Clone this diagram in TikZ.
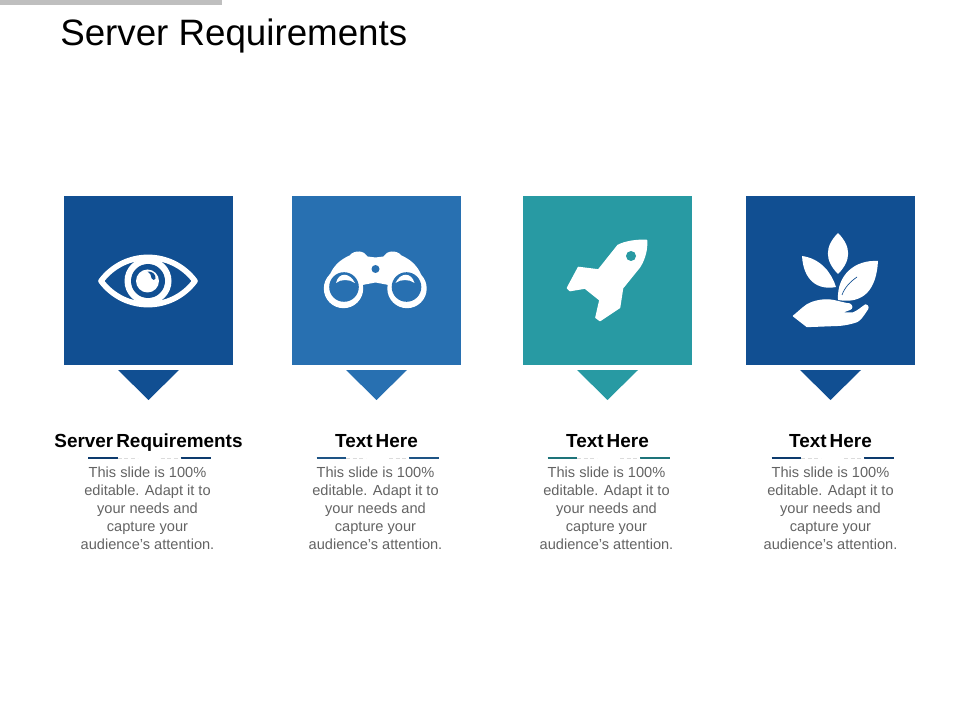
\documentclass[tikz,border=0pt]{standalone}
\usepackage{fontspec}
\setmainfont{Liberation Sans}
\definecolor{navyblue}{HTML}{114F92}
\definecolor{midblue}{HTML}{2870B1}
\definecolor{tealblue}{HTML}{289AA3}
\definecolor{bodygray}{HTML}{636363}
\newcommand{\blurb}{This slide is 100\%\\editable. Adapt it to\\your needs and\\capture your\\audience's attention.}
\newcommand{\headfont}{\fontsize{14.2}{16}\selectfont\bfseries\spaceskip 2.25pt\relax}
\tikzset{
  cardbox/.style={minimum size=126.75pt,inner sep=0pt,outer sep=0pt},
  headtext/.style={anchor=base,inner sep=0pt,font=\headfont},
  bodytext/.style={inner sep=0pt,align=center,text=bodygray,font=\fontsize{10.95}{13.5}\selectfont},
  pics/pointer/.style={code={
    \fill[#1] (-30.5,5) -- (30.5,5) -- (0,35) -- cycle;
  }},
  pics/headrule/.style={code={
    \draw[#1!75!black,line width=.8pt] (-60.5,0) -- (-31,0);
    \draw[#1!75!black,line width=.8pt] (32,0) -- (62,0);
    \draw[gray!28,line width=.7pt,dash pattern=on 3pt off 2pt] (-31,0) -- (-11,0);
    \draw[gray!28,line width=.7pt,dash pattern=on 3pt off 2pt] (12,0) -- (32,0);
  }},
  pics/eyeicon/.style={code={
    \draw[white,line width=4.2pt,line join=round] (-47.5,.5) .. controls (-24,-31) and (23,-31) .. (46.5,.5)
      .. controls (23,32) and (-24,32) .. cycle;
    \fill[white] (-.5,.5) circle[radius=23.5];
    \fill[#1] (-.5,.5) circle[radius=17];
    \fill[white] (-1,.5) circle[radius=11.5];
    \fill[#1] (-1,-9) .. controls (4,-9.5) and (7.5,-6) .. (7,-2) .. controls (6.5,0) and (4,0) .. (3.2,-2)
      .. controls (3,-5) and (1.5,-7.5) .. cycle;
  }},
  pics/binocularicon/.style={code={
    \fill[white] (-47,-5) .. controls (-43,-15) and (-36,-21) .. (-27,-25) .. controls (-22,-31) and (-12,-30) .. (-9,-24)
      -- (-1,-23) -- (7,-24) .. controls (10,-30) and (20,-31) .. (25,-25) .. controls (34,-21) and (41,-15) .. (45,-5)
      -- (30.5,8) -- (-1,2) -- (-33,8) -- cycle;
    \fill[white] (-33,8) circle[radius=19.7];
    \fill[white] (30.5,8) circle[radius=19.7];
    \fill[#1] (-32.5,6.5) circle[radius=14.8];
    \fill[#1] (30,6.5) circle[radius=14.8];
    \fill[#1] (-1,-11.5) circle[radius=4];
    \fill[white] (-40.5,2.5) .. controls (-38,-8.5) and (-27,-8.5) .. (-21.5,2.5) .. controls (-27,-1.5) and (-36,-1.5) .. cycle;
    \fill[white] (38,2.5) .. controls (35,-8.5) and (24,-8.5) .. (19,2.5) .. controls (24,-1.5) and (33,-1.5) .. cycle;
  }},
  pics/rocketicon/.style={code={
    \fill[white,draw=white,line width=1.2pt,line join=round] (39,-40) .. controls (30,-40.5) and (18,-39) .. (10.5,-35)
      -- (-9,-10.5) -- (-29,-13) -- (-40,7.5) -- (-37.5,10) -- (-22.5,7.5) -- (-7.5,19.5)
      -- (-11.5,37) -- (-7.5,40) -- (12,27) -- (15,7.5) -- (32,-13.5)
      .. controls (37.5,-22) and (39.5,-32) .. cycle;
    \fill[#1] (23.5,-24.5) circle[radius=5];
  }},
  pics/planticon/.style={code={
    \fill[white] (7.5,-47.5) .. controls (-6,-34) and (-6,-20) .. (7.5,-6.5) .. controls (21,-20) and (21,-34) .. cycle;
    \fill[white] (-28.5,-24.5) .. controls (-10,-22) and (1,-8) .. (5.5,6.5) .. controls (-13,10) and (-27,0) .. cycle;
    \fill[white] (47.5,-19.5) .. controls (25,-21) and (6,-6) .. (7.5,19.5) .. controls (34,24) and (46,8) .. cycle;
    \draw[#1,line width=.5pt] (11.5,14.5) .. controls (14,7) and (20,1) .. (26.5,-3.5);
    \fill[white,draw=white,line width=1pt,line join=round] (-37,35.5) .. controls (-30,30) and (-25,24) .. (-18.5,22)
      .. controls (-10,19) and (-2,19) .. (2.5,20) .. controls (8,21) and (14,23) .. (19,23.5)
      .. controls (22,25) and (22,28) .. (19,29) -- (9.5,32.5) -- (22.5,32.5)
      .. controls (27,31) and (31,27) .. (35,24.5) .. controls (38,25) and (38,28) .. (36,30)
      .. controls (32,36) and (30,39) .. (26.5,41) .. controls (18,44) and (10,45) .. (2.5,45)
      -- (-23.5,46) -- cycle;
  }},
}
\begin{document}
\begin{tikzpicture}[x=0.75pt,y=-0.75pt]
  \useasboundingbox (0,0) rectangle (960,720);
  \fill[gray!50] (0,0) rectangle (222,5);
  \node[anchor=west,inner sep=0pt,font=\fontsize{27.55}{32}\selectfont] (title) at (60,36) {Server Requirements};
  % cards
  \node[cardbox,fill=navyblue] (eyecard) at (148.5,280.5) {};
  \node[cardbox,fill=midblue] (binocularcard) at (376.5,280.5) {};
  \node[cardbox,fill=tealblue] (rocketcard) at (607.5,280.5) {};
  \node[cardbox,fill=navyblue] (plantcard) at (830.5,280.5) {};
  \pic at (eyecard.center) {eyeicon=navyblue};
  \pic at (binocularcard.center) {binocularicon=midblue};
  \pic at (rocketcard.center) {rocketicon=tealblue};
  \pic at (plantcard.center) {planticon=navyblue};
  \pic at (eyecard.south) {pointer=navyblue};
  \pic at (binocularcard.south) {pointer=midblue};
  \pic at (rocketcard.south) {pointer=tealblue};
  \pic at (plantcard.south) {pointer=navyblue};
  % captions
  \node[headtext] (eyehead) at (148.5,447) {Server Requirements};
  \node[headtext] (binocularhead) at (376.5,447) {Text Here};
  \node[headtext] (rockethead) at (607.5,447) {Text Here};
  \node[headtext] (planthead) at (830.5,447) {Text Here};
  \pic at (148.5,458) {headrule=navyblue};
  \pic at (377,458) {headrule=midblue};
  \pic at (608,458) {headrule=tealblue};
  \pic at (832,458) {headrule=navyblue};
  \node[bodytext] (eyetext) at (147.5,508) {\blurb};
  \node[bodytext] (binoculartext) at (375.5,508) {\blurb};
  \node[bodytext] (rockettext) at (606.5,508) {\blurb};
  \node[bodytext] (planttext) at (830.5,508) {\blurb};
\end{tikzpicture}
\end{document}
